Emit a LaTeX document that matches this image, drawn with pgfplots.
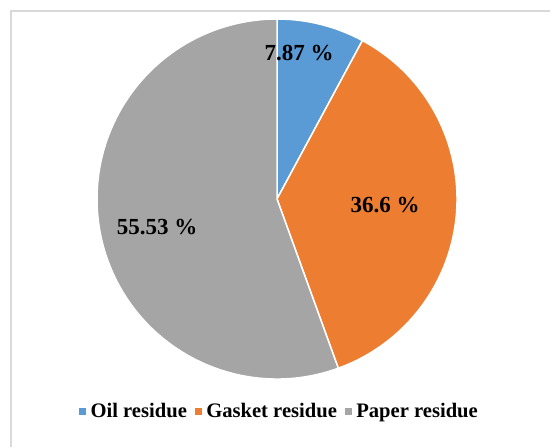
\documentclass[border=0pt]{standalone}
\usepackage{pgfplots}
\usepackage{pgfplotstable}
\pgfplotsset{compat=1.18}
\usepackage{fontspec}
\setmainfont{Liberation Serif}

\definecolor{oilblue}{HTML}{5B9BD5}
\definecolor{gasketorange}{HTML}{ED7D31}
\definecolor{papergray}{HTML}{A5A5A5}
\definecolor{framegray}{HTML}{D9D9D9}

% share (%), slice colour, label position
\pgfplotstableread{
name   value  color         lx   ly
Oil    7.87   oilblue       299  394
Gasket 36.6   gasketorange  385  242
Paper  55.53  papergray     157  220
}\piedata

\begin{document}
\begin{tikzpicture}
\begin{axis}[
  x=1bp, y=1bp,
  xmin=0, xmax=550, ymin=0, ymax=447,
  hide axis, clip=false,
  legend columns=-1,
  legend style={
    at={(axis cs:279.5,36)}, anchor=center, draw=none, fill=none,
    font=\fontsize{20.6bp}{24bp}\selectfont\bfseries,
    /tikz/every odd column/.append style={column sep=3bp},
    /tikz/every even column/.append style={column sep=6bp},
    inner sep=0pt,
  },
  legend image code/.code={\fill[#1] (0bp,-3bp) rectangle (6bp,3bp);},
]
% outer frame
\draw[framegray, line width=1.2bp] (axis cs:11,0) -- (axis cs:11,436) -- (axis cs:550,436);

% slices, clockwise from the top
\def\angleacc{90}
\pgfplotsforeachungrouped \i in {0,1,2}{%
  \pgfplotstablegetelem{\i}{value}\of\piedata \let\v\pgfplotsretval
  \pgfplotstablegetelem{\i}{color}\of\piedata \let\c\pgfplotsretval
  \pgfmathsetmacro\aend{\angleacc-3.6*\v}%
  \edef\temp{\noexpand\fill[\c, draw=white, line width=1.5bp]
    (axis cs:277,248) -- ++(\angleacc:180bp)
    arc[start angle=\angleacc, end angle=\aend, radius=180bp] -- cycle;}%
  \temp
  \global\let\angleacc\aend
}
% value labels on top of all slices
\pgfplotsforeachungrouped \i in {0,1,2}{%
  \pgfplotstablegetelem{\i}{value}\of\piedata \let\v\pgfplotsretval
  \pgfplotstablegetelem{\i}{lx}\of\piedata \let\lx\pgfplotsretval
  \pgfplotstablegetelem{\i}{ly}\of\piedata \let\ly\pgfplotsretval
  \edef\temp{\noexpand\node[font=\noexpand\fontsize{23bp}{27bp}\noexpand\selectfont\noexpand\bfseries]
    at (axis cs:\lx,\ly) {\v\noexpand\ \noexpand\%};}%
  \temp
}

\addlegendimage{oilblue}
\addlegendentry{Oil residue}
\addlegendimage{gasketorange}
\addlegendentry{Gasket residue}
\addlegendimage{papergray}
\addlegendentry{Paper residue}
\end{axis}
\pgfresetboundingbox
\useasboundingbox (current axis.south west) rectangle (current axis.north east);
\end{tikzpicture}
\end{document}
